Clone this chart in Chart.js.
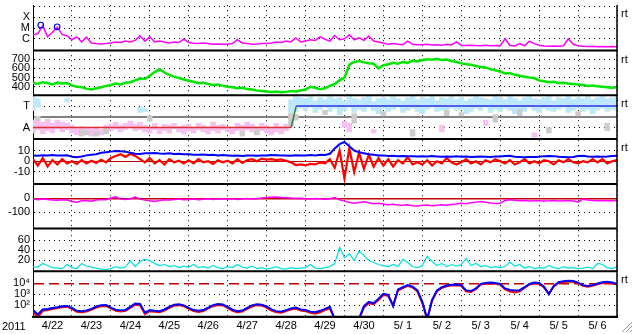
<!DOCTYPE html>
<html>
<head>
<meta charset="utf-8">
<title>Space weather summary 2011 4/22 - 5/6</title>
<script src="https://cdn.jsdelivr.net/npm/chart.js@4.4.1/dist/chart.umd.min.js"></script>
<style>
  html, body { margin: 0; padding: 0; background: #fff; }
  canvas { display: block; }
</style>
</head>
<body>
<canvas id="swChart" width="633" height="334"></canvas>
<script>
// one sample every 3 hours (8 per day), starting 2011-04-22 00:00
const dayLabels = ['4/22', '4/23', '4/24', '4/25', '4/26', '4/27', '4/28', '4/29', '4/30', '5/ 1', '5/ 2', '5/ 3', '5/ 4', '5/ 5', '5/ 6'];
const samplesPerDay = 8;

// X-ray flux (W/m2)
const xrayFlux = [
  2.4e-6, 3.0e-6, 1.6e-5, 1.5e-6, 4.0e-6, 1.2e-5, 2.4e-6, 1.9e-6,
  8e-7, 1.5e-6, 5e-7, 1.4e-6, 4e-7, 3.5e-7, 3.2e-7, 3.5e-7,
  4e-7, 5e-7, 4.5e-7, 6e-7, 5e-7, 7e-7, 1.9e-6, 6e-7,
  1.5e-6, 5e-7, 6e-7, 5e-7, 4e-7, 5e-7, 4.5e-7, 9e-7,
  4.5e-7, 3.8e-7, 3.5e-7, 4e-7, 3.5e-7, 3e-7, 3.3e-7, 3e-7,
  3e-7, 3.5e-7, 8e-7, 4e-7, 3.5e-7, 3e-7, 3.2e-7, 3.5e-7,
  3.5e-7, 4e-7, 5e-7, 4.5e-7, 6e-7, 5e-7, 1.2e-6, 5e-7,
  6e-7, 8e-7, 7e-7, 1.5e-6, 9e-7, 6e-7, 2e-6, 8e-7,
  1e-6, 2.4e-6, 8e-7, 1.2e-6, 7e-7, 1.8e-6, 6e-7, 5e-7,
  4e-7, 3e-7, 3.5e-7, 3e-7, 2.8e-7, 6e-7, 3e-7, 2.8e-7,
  2.8e-7, 3e-7, 2.6e-7, 2.8e-7, 2.5e-7, 3e-7, 2.6e-7, 5e-7,
  2.5e-7, 2.3e-7, 2.5e-7, 2.3e-7, 2.2e-7, 2.4e-7, 2.2e-7, 2.3e-7,
  2.2e-7, 1e-6, 2.3e-7, 2.1e-7, 3.5e-7, 2.2e-7, 6e-7, 3.5e-7,
  2.5e-7, 2.1e-7, 2e-7, 2.1e-7, 2e-7, 2.2e-7, 1e-6, 3e-7,
  2.2e-7, 2e-7, 1.9e-7, 2e-7, 1.8e-7, 1.9e-7, 1.8e-7, 1.9e-7, 1.8e-7
];
const flareDays = [0.2, 0.62];
const flarePeaks = [1.9e-5, 1.3e-5];

// solar wind speed (km/s)
const windSpeed = [
  445, 430, 450, 440, 425, 445, 435, 440,
  415, 400, 395, 380, 370, 385, 395, 410,
  420, 435, 425, 445, 450, 470, 490, 485,
  520, 560, 590, 555, 530, 510, 495, 480,
  465, 455, 440, 445, 430, 420, 425, 410,
  400, 395, 385, 390, 375, 370, 360, 355,
  350, 345, 350, 340, 345, 355, 350, 360,
  370, 400, 390, 375, 385, 410, 430, 470,
  500, 640, 670, 680, 665, 655, 650, 600,
  635, 645, 660, 650, 670, 660, 685, 675,
  690, 700, 695, 705, 690, 695, 680, 670,
  655, 645, 640, 625, 615, 610, 590, 580,
  565, 545, 550, 530, 520, 510, 500, 495,
  470, 460, 450, 455, 440, 445, 435, 430,
  425, 420, 410, 415, 405, 400, 395, 390, 395
];

// IMF sector: [sample, low, high]  (T = +1, A = -1)
const towardCells = [
  [0, 0.6, 1.9], [1, 0.9, 1.7], [7, 1.4, 1.7], [22, 0.4, 0.9], [23, 0.5, 0.8],
  [53, 0.3, 1.6], [54, 0.5, 1.9], [55, 0.8, 1.8],
  [56, 0.6, 1.7], [57, 0.9, 1.9], [58, 0.4, 1.5], [59, 0.7, 1.8], [60, 0.9, 1.6], [61, 0.5, 1.9], [62, 0.8, 1.7], [63, 0.2, 1.8],
  [64, 0.6, 1.5], [65, 0.9, 1.9], [66, 0.4, 1.7], [67, 0.7, 1.6], [68, 0.5, 1.8], [69, 0.9, 1.9], [70, 0.6, 1.4], [71, 0.3, 1.7],
  [72, 0.8, 1.8], [73, 0.5, 1.6], [74, 0.7, 1.9], [75, 0.9, 1.7], [76, 0.4, 1.5], [77, 0.6, 1.8], [78, 0.8, 1.9], [79, 0.5, 1.6],
  [80, 0.3, 1.8], [81, 0.7, 1.7], [82, 0.9, 1.9], [83, 0.5, 1.5], [84, 0.6, 1.8], [85, 0.4, 1.7], [86, 0.8, 1.9], [87, 0.6, 1.6],
  [88, 0.7, 1.8], [89, 0.3, 1.5], [90, 0.5, 1.7], [91, 0.8, 1.9], [92, 0.6, 1.8], [93, 0.9, 1.7], [94, 0.4, 1.6], [95, 0.7, 1.9],
  [96, 0.5, 1.8], [97, 0.8, 1.6], [98, 0.6, 1.9], [99, 0.3, 1.7], [100, 0.7, 1.5], [101, 0.5, 1.8], [102, 0.9, 1.9], [103, 0.6, 1.7],
  [104, 0.4, 1.6], [105, 0.8, 1.8], [106, 0.6, 1.9], [107, 0.5, 1.5], [108, 0.7, 1.8], [109, 0.9, 1.7], [110, 0.4, 1.9], [111, 0.6, 1.6],
  [112, 0.8, 1.8], [113, 0.5, 1.7], [114, 0.7, 1.9], [115, 0.3, 1.6], [116, 0.6, 1.8], [117, 0.8, 1.9], [118, 0.5, 1.7], [119, 0.7, 1.8], [120, 0.6, 1.9]
];
const awayCells = [
  [0, -1.5, -0.3], [1, -1.2, -0.4], [2, -1.6, -0.5], [3, -1.3, -0.2], [4, -1.5, -0.6], [5, -1.1, -0.3], [6, -1.4, -0.5], [7, -1.2, -0.6],
  [8, -1.5, -0.8], [9, -1.7, -1.0], [10, -1.4, -0.9], [11, -1.6, -1.0], [12, -1.8, -1.1], [13, -1.5, -0.9], [14, -1.7, -1.2], [15, -1.4, -0.8],
  [16, -1.3, -0.7], [17, -1.1, -0.5], [18, -1.4, -0.8], [19, -1.2, -0.6], [20, -1.0, -0.4], [21, -1.3, -0.7], [22, -1.2, -0.5], [23, -1.4, -0.8],
  [24, -1.5, -0.9], [25, -1.2, -0.6], [26, -1.6, -1.0], [27, -1.3, -0.7], [28, -1.5, -0.8], [29, -1.1, -0.6], [30, -1.4, -0.9], [31, -1.6, -0.8],
  [32, -1.3, -0.7], [33, -1.5, -1.0], [34, -1.2, -0.6], [35, -1.4, -0.8], [36, -1.6, -0.9], [37, -1.3, -0.5], [38, -1.5, -0.8], [39, -1.2, -0.7],
  [40, -1.4, -0.9], [41, -1.6, -1.0], [42, -1.3, -0.6], [43, -1.5, -0.8], [44, -1.2, -0.5], [45, -1.4, -0.7], [46, -1.6, -0.9], [47, -1.3, -0.6],
  [48, -1.5, -0.8], [49, -1.7, -1.0], [50, -1.4, -0.6], [51, -1.6, -0.9], [52, -1.3, -0.7],
  [64, -1.0, -0.4], [65, -1.4, -0.6], [70, -1.5, -1.2], [84, -1.4, -0.8], [93, -0.8, -0.3], [103, -1.9, -1.5]
];
const mixedCells = [
  [1, -0.35, 0.05], [10, -1.8, -1.2], [11, -1.7, -1.3], [13, -1.8, -1.4], [15, -1.6, -1.1], [24, -0.4, 0.1],
  [43, -1.8, -1.4], [46, -1.7, -1.2], [53, -0.9, 0.3], [54, -0.3, 0.2], [60, 0.2, 0.6], [66, -0.6, 0.3],
  [72, 0.0, 0.5], [78, -1.8, -1.2], [85, 0.1, 0.6], [88, 0.0, 0.4], [95, -0.5, 0.2], [100, 0.1, 0.7],
  [106, -1.5, -1.0], [112, 0.0, 0.5], [118, -1.3, -0.6]
];
const sectorTimes = [0, 6.63, 6.76, 15];
const sectorLevels = [-1, -1, 1, 1];

// IMF Bt and Bz (nT)
const imfBt = [
  5.5, 5.2, 5.6, 5.4, 5.8, 5.5, 5.3, 5.6,
  4.2, 3.8, 4.5, 5.5, 6, 6.5, 8, 8.5,
  9, 9.5, 9.3, 9, 8, 7, 6.8, 7.5,
  7.5, 7.8, 7.2, 7, 7.5, 6.8, 7, 6.5,
  6.5, 6.2, 6, 6.3, 5.8, 6, 5.5, 5.8,
  5.5, 5.2, 5.4, 5, 5.3, 5.5, 5.2, 5.4,
  5.5, 5.8, 5.6, 5.4, 5.5, 5.2, 5.6, 5.4,
  5.5, 5.8, 5.5, 6, 5.8, 7, 12, 16,
  18, 14, 10, 8.5, 7.5, 6.5, 6, 5.5,
  5.5, 5, 5.2, 4.8, 5, 4.6, 4.8, 4.5,
  4.6, 4.4, 4.8, 4.5, 4.2, 4.5, 4.3, 4.6,
  4.2, 4.5, 4, 4.3, 4.5, 4.2, 4, 4.4,
  4.5, 5, 5.2, 4.2, 4, 3.8, 4, 3.9,
  4.2, 4.8, 5, 4.8, 4.2, 4, 3.8, 4,
  5, 5.2, 4.5, 4.2, 4.4, 4.2, 4.5, 5, 5.2
];
const imfBz = [
  2, -4, 3, -5, 1, -3, 2, -2,
  0, -2.5, 1, -2, 0.5, -1.5, 1.5, -1,
  3, 5, 6.5, 4, 7, 5, 2, -1,
  3, -2, 1, -3, 2, -1, 0.5, -2,
  1, -2, 2, -1, 0, -2.5, 1, -1,
  0.5, -2, 2, -1.5, 1, 2, 0, 2.5,
  1.5, 2, 1, 1.8, 0.5, -1, -3.5, -3,
  -3.8, -2.5, -3, -1, -2, 2, -6, 10,
  -16, 12, -10, 8, -7, 6, -5, 3,
  -4, 2, -5, 1, -2, 4, -3, -1,
  -3, 1, -4, 0, -2, 3, -1, -3,
  -1, 2, -2, 0, -3, 1, -1, 2,
  0, -2, 1, -3, -1, 2, -2, 0,
  -2, 1, 0, -3, 1, -1, 2, -1,
  -2, 0, -1, 2, -1, 2, -2, 0, 1
];

// Dst (nT)
const dstIndex = [
  -3, -10, -5, -8, -12, -14, -10, -12,
  -22, -28, -18, -15, -20, -12, -8, -10,
  2, 10, -5, -8, -3, 8, -6, -12,
  -18, -22, -15, -10, -12, -8, -5, -10,
  -8, -5, -10, -6, -4, -8, -5, -3,
  -6, -4, -8, -5, -2, -5, -3, 2,
  5, 8, 10, 6, 4, 2, -2, 0,
  -3, -5, -2, -4, -6, -3, 5, -10,
  -20, -28, -35, -30, -25, -32, -38, -35,
  -40, -45, -42, -48, -50, -46, -52, -55,
  -50, -48, -53, -50, -46, -50, -44, -40,
  -35, -38, -32, -28, -23, -28, -33, -36,
  -35, -15, -10, -14, -18, -16, -20, -18,
  -17, -19, -18, -16, -20, -18, -16, -19,
  -26, -6, -12, -15, -18, -16, -17, -18, -16
];

// geomagnetic activity index
const activityIndex = [
  8, 7, 14, 10, 6, 5, 4, 12,
  6, 4, 14, 9, 7, 5, 3, 2,
  4, 8, 5, 7, 19, 8, 18, 22,
  20, 14, 10, 12, 8, 10, 6, 9,
  7, 12, 6, 8, 5, 10, 6, 4,
  8, 6, 12, 7, 5, 9, 4, 6,
  3, 5, 8, 4, 3, 6, 4, 5,
  6, 12, 5, 4, 6, 8, 14, 46,
  25, 33, 20, 38, 30, 20, 16, 12,
  10, 8, 12, 8, 22, 16, 8, 6,
  10, 28, 18, 10, 14, 8, 12, 9,
  12, 24, 10, 14, 8, 10, 6, 8,
  6, 8, 17, 9, 12, 5, 8, 4,
  6, 5, 10, 6, 4, 8, 5, 6,
  4, 5, 7, 4, 14, 12, 6, 4, 8
];

// >2 MeV electron flux, two satellites
const electronA = [
  35, 14, 40, 45, 55, 65, 80, 85,
  55, 30, 28, 32, 45, 75, 100, 105,
  60, 38, 33, 36, 70, 140, 130, 20,
  35, 30, 28, 40, 70, 110, 120, 95,
  55, 35, 30, 35, 60, 100, 130, 115,
  70, 38, 28, 32, 55, 95, 120, 110,
  75, 40, 28, 25, 35, 50, 60, 40,
  35, 25, 22, 30, 45, 70, 5, 5,
  5, 5, 5, 6, 80, 200, 150, 400,
  1100, 900, 80, 2800, 4500, 7000, 5000, 2300,
  200, 5, 300, 2300, 4500, 6500, 7500, 8000,
  7000, 2300, 2000, 3500, 9000, 11000, 12000, 11000,
  9000, 3500, 2500, 2200, 2400, 4500, 9000, 12000,
  11000, 5000, 1000, 6000, 13000, 16000, 18000, 17000,
  12000, 7000, 6000, 7000, 10000, 13000, 14000, 12000, 9000
];
const electronB = [
  25, 8, 30, 35, 45, 55, 65, 70,
  45, 24, 22, 26, 38, 60, 80, 85,
  50, 30, 26, 30, 55, 110, 100, 15,
  28, 24, 22, 32, 55, 90, 100, 80,
  45, 28, 24, 28, 50, 80, 105, 95,
  55, 30, 22, 26, 45, 75, 100, 90,
  60, 32, 22, 20, 28, 40, 48, 32,
  28, 20, 16, 22, 35, 50, 5, 5,
  5, 5, 5, 5, 60, 150, 120, 300,
  900, 700, 100, 2200, 3800, 6000, 4200, 1800,
  150, 5, 250, 1800, 3800, 5500, 6500, 7000,
  6000, 1800, 1600, 3000, 8000, 9500, 10000, 9500,
  7500, 2800, 1800, 1500, 1900, 3800, 8000, 10500,
  9500, 4200, 1200, 5000, 11000, 14000, 15000, 14500,
  10000, 6000, 5000, 6000, 8500, 11000, 12000, 10500, 8000
];

// axis ticks
const xrayTicks = [1e-3, 1e-4, 1e-5, 1e-6];
const xrayTickLabels = ['', 'X', 'M', 'C'];
const speedTicks = [400, 500, 600, 700];
const sectorTicks = [-1, 0, 1];
const sectorTickLabels = ['A', '', 'T'];
const imfTicks = [-10, 0, 10];
const dstTicks = [-100, 0];
const activityTicks = [20, 40, 60];
const electronTicks = [1e2, 1e3, 1e4];
const electronTickLabels = ['10\u00b2', '10\u00b3', '10\u2074'];

const FONT = { family: "'Liberation Sans', Arial, Helvetica, sans-serif", size: 11 };
Chart.defaults.font.family = FONT.family;
Chart.defaults.color = '#000';

const series = values => values.map((v, i) => ({ x: i / samplesPerDay, y: v }));
const cells = list => list.map(([i, lo, hi]) => ({ x: i / samplesPerDay, y: [lo, hi] }));

// one stacked panel axis on the left
function panelAxis(type, min, max, ticks, labels, order, height, ref) {
  const isRef = c => ref && c.tick && c.tick.value === ref.value;
  return {
    type: type, min: min, max: max,
    position: 'left', stack: 'panels', stackWeight: height, weight: order,
    afterBuildTicks: s => { s.ticks = ticks.map(v => ({ value: v })); },
    afterFit: s => { s.width = 33; s.paddingTop = 0; s.paddingBottom = 0; },
    ticks: {
      autoSkip: false, padding: 3, font: FONT, color: '#000',
      callback: (v, i) => labels ? labels[i] : String(ticks[i])
    },
    grid: {
      drawTicks: false,
      color: c => isRef(c) ? ref.color : '#000',
      lineWidth: c => isRef(c) ? ref.width : 1
    },
    border: { display: true, color: '#000', width: 1, dash: c => isRef(c) ? ref.dash : [1, 4] }
  };
}

const lineDs = (data, yAxisID, color, width, order) => ({
  data: data, yAxisID: yAxisID, xAxisID: 'x', borderColor: color, borderWidth: width,
  pointRadius: 0, tension: 0, fill: false, order: order
});
const cellDs = (data, color) => ({
  type: 'bar', data: data, yAxisID: 'yS', xAxisID: 'x', backgroundColor: color,
  borderWidth: 0, grouped: false, barPercentage: 1, categoryPercentage: 1, order: 10
});

const panelIds = ['yX', 'yV', 'yS', 'yB', 'yD', 'yK', 'yE'];

const panelFrame = {
  id: 'panelFrame',
  afterDraw(chart) {
    const { ctx, chartArea: a, scales } = chart;
    ctx.save();
    ctx.strokeStyle = '#000';
    ctx.lineWidth = 2;
    ctx.beginPath();
    panelIds.forEach(id => {
      ctx.moveTo(a.left, scales[id].bottom);
      ctx.lineTo(a.right, scales[id].bottom);
    });
    ctx.stroke();
    ctx.lineWidth = 1.5;
    ctx.beginPath();
    ctx.moveTo(a.right, a.top);
    ctx.lineTo(a.right, a.bottom);
    ctx.stroke();

    ctx.fillStyle = '#000';
    ctx.font = '11px ' + FONT.family;
    ctx.textBaseline = 'middle';
    ['yX', 'yV', 'yS', 'yB', 'yE'].forEach(id => ctx.fillText('rt', a.right + 4, scales[id].top + 9));
    ctx.fillText('2011', 2, a.bottom + 10);

    // size grip in the corner
    ctx.strokeStyle = '#999';
    ctx.lineWidth = 1;
    ctx.beginPath();
    [0, 4, 8].forEach(k => { ctx.moveTo(632, 322 + k); ctx.lineTo(622 + k, 332); });
    ctx.stroke();
    ctx.restore();
  }
};

new Chart(document.getElementById('swChart'), {
  type: 'line',
  data: {
    datasets: [
      Object.assign(lineDs(flareDays.map((d, i) => ({ x: d, y: flarePeaks[i] })), 'yX', '#0000ff', 1.2, 0),
        { showLine: false, pointRadius: 2.8, pointStyle: 'circle', backgroundColor: 'rgba(0,0,0,0)' }),
      lineDs(series(xrayFlux), 'yX', '#ff00ff', 1.5, 1),
      lineDs(series(windSpeed), 'yV', '#00e600', 2.5, 1),
      Object.assign(lineDs(sectorTimes.map((t, i) => ({ x: t, y: sectorLevels[i] })), 'yS', '#3030e0', 1.5, 0), {
        segment: { borderColor: c => c.p0DataIndex === 0 ? '#e03030' : (c.p0DataIndex === 1 ? '#3c7a3c' : '#3030e0') }
      }),
      cellDs(cells(mixedCells), '#cccccc'),
      cellDs(cells(towardCells), '#bde8f9'),
      cellDs(cells(awayCells), '#f6c0f0'),
      lineDs(series(imfBt), 'yB', '#0000ff', 2, 0),
      lineDs(series(imfBz), 'yB', '#ff0000', 2.2, 1),
      lineDs(series(dstIndex), 'yD', '#ff00ff', 1.5, 1),
      lineDs(series(activityIndex), 'yK', '#00e0e0', 1.2, 1),
      lineDs(series(electronA), 'yE', '#0000ff', 2, 0),
      lineDs(series(electronB), 'yE', '#ff0000', 2, 1)
    ]
  },
  options: {
    responsive: false,
    animation: false,
    events: [],
    layout: { padding: { top: 1, right: 16, bottom: 0, left: 0 } },
    plugins: { legend: { display: false }, tooltip: { enabled: false } },
    scales: {
      x: {
        type: 'linear', min: 0, max: dayLabels.length, offset: false,
        afterBuildTicks: s => { s.ticks = []; for (let d = 0; d <= dayLabels.length; d++) s.ticks.push({ value: d }); },
        afterFit: s => { s.height = 17.3; s.paddingLeft = 0; s.paddingRight = 0; },
        ticks: {
          autoSkip: false, maxRotation: 0, padding: 3, labelOffset: 19.5, font: FONT, color: '#000',
          callback: (v, i) => dayLabels[i] || ''
        },
        grid: { drawTicks: false, offset: false, color: '#000', lineWidth: 1 },
        border: { display: true, color: '#000', width: 2, dash: [1, 4] }
      },
      yX: panelAxis('logarithmic', 7.8e-8, 1.35e-3, xrayTicks, xrayTickLabels, 7, 46),
      yV: panelAxis('linear', 308, 793, speedTicks, null, 6, 45.3),
      yS: panelAxis('linear', -2.08, 2.01, sectorTicks, sectorTickLabels, 5, 44.4,
        { value: 0, color: '#808080', width: 2, dash: [] }),
      yB: panelAxis('linear', -21.3, 20.7, imfTicks, null, 4, 45.6,
        { value: 0, color: '#c00000', width: 1, dash: [] }),
      yD: panelAxis('linear', -214, 100.7, dstTicks, null, 3, 45,
        { value: 0, color: '#c00000', width: 1.5, dash: [] }),
      yK: panelAxis('linear', -1.3, 82.6, activityTicks, null, 2, 43.4),
      yE: panelAxis('logarithmic', 8.6, 1.32e5, electronTicks, electronTickLabels, 1, 46,
        { value: 1e4, color: '#c00000', width: 1.5, dash: [10, 5] })
    }
  },
  plugins: [panelFrame]
});
</script>
</body>
</html>
